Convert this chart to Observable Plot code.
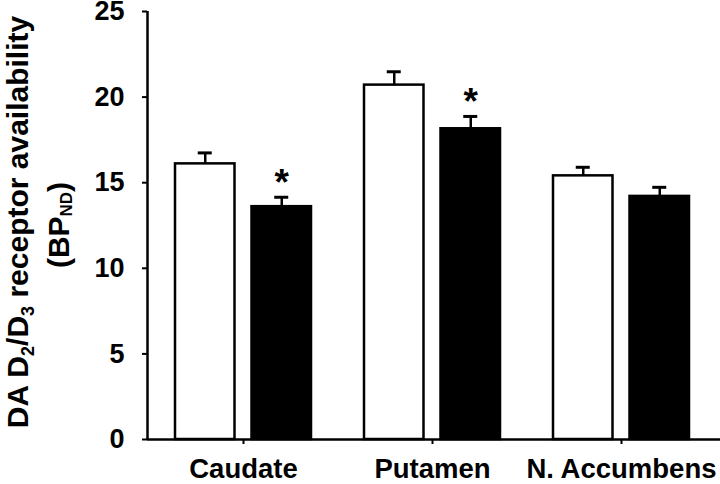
<!DOCTYPE html>
<html>
<head>
<meta charset="utf-8">
<script src="https://cdn.jsdelivr.net/npm/d3@7"></script>
<script src="https://cdn.jsdelivr.net/npm/@observablehq/plot@0.6"></script>
<style>
  html, body { margin: 0; padding: 0; background: #fff; }
  #chart { width: 720px; height: 484px; }
</style>
</head>
<body>
<div id="chart"></div>
<script>
// ---- data ----
const categories = ["Caudate", "Putamen", "N. Accumbens"];
const controlValues = [16.1, 20.7, 15.4];
const controlErrors = [0.64, 0.78, 0.5];
const patientValues = [13.6, 18.15, 14.2];
const patientErrors = [0.55, 0.72, 0.53];
const significant = [true, true, false];
const yTicks = [0, 5, 10, 15, 20, 25];
const seriesNames = ["Control", "Patient"];

// ---- layout constants (pixels converted to group-step units) ----
const step = 189;                 // px per category group
const barInner = 8.5 / step;      // half gap between bars
const barOuter = 68 / step;       // outer edge of a bar from group centre
const capHalf = 7 / step;
const xDomain = [-96 / step, 2 + 99 / step];

const rows = [];
categories.forEach((c, i) => {
  rows.push({cat: c, i, series: seriesNames[0], value: controlValues[i], err: controlErrors[i], sig: false,
             x1: i - barOuter, x2: i - barInner, fill: "white"});
  rows.push({cat: c, i, series: seriesNames[1], value: patientValues[i], err: patientErrors[i], sig: significant[i],
             x1: i + barInner, x2: i + barOuter, fill: "black"});
});
rows.forEach(d => { d.xc = (d.x1 + d.x2) / 2; d.top = d.value + d.err; });

const font = "'Liberation Sans', Arial, Helvetica, sans-serif";

const chart = Plot.plot({
  width: 720,
  height: 484,
  marginLeft: 147,
  marginRight: 0,
  marginTop: 11,
  marginBottom: 45,
  style: {fontFamily: font, background: "white", color: "black", overflow: "visible"},
  x: {domain: xDomain, axis: null},
  y: {domain: [0, 25], axis: null},
  marks: [
    Plot.rectY(rows, {x1: "x1", x2: "x2", y1: 0, y2: "value", fill: "fill", stroke: "black", strokeWidth: 2.5}),
    Plot.ruleX(rows, {x: "xc", y1: "value", y2: "top", stroke: "black", strokeWidth: 2.5}),
    Plot.ruleY(rows, {y: "top", x1: d => d.xc - capHalf, x2: d => d.xc + capHalf, stroke: "black", strokeWidth: 3}),
    Plot.text(rows.filter(d => d.sig), {x: "xc", y: "top", text: () => "*", lineAnchor: "bottom", dy: -2,
      fontSize: 37, fontWeight: "bold", fill: "black"}),
    Plot.axisY({ticks: yTicks, tickSize: 5, tickPadding: 18, fontSize: 27, fontWeight: "bold",
      label: null, strokeWidth: 2, tickFormat: d => String(d)}),
    Plot.axisX({ticks: categories.map((c, i) => i), tickFormat: i => categories[i], tickSize: 5,
      tickPadding: 14, fontSize: 27.5, fontWeight: "bold", label: null, strokeWidth: 2}),
    Plot.ruleX([xDomain[0]], {y1: 0, y2: 25, stroke: "black", strokeWidth: 2.5}),
    Plot.ruleY([0], {stroke: "black", strokeWidth: 2.5})
  ]
});

document.getElementById("chart").appendChild(chart);

// ---- y-axis title with subscripts ----
const svg = d3.select(chart);
const t1 = svg.append("text")
  .attr("transform", "translate(27.5,222) rotate(-90)")
  .attr("text-anchor", "middle")
  .attr("font-family", font).attr("font-weight", "bold").attr("font-size", 30).attr("fill", "black");
t1.append("tspan").text("DA D");
t1.append("tspan").attr("font-size", 18).attr("dy", 6).text("2");
t1.append("tspan").attr("dy", -6).text("/D");
t1.append("tspan").attr("font-size", 18).attr("dy", 6).text("3");
t1.append("tspan").attr("dy", -6).text(" receptor availability");

const t2 = svg.append("text")
  .attr("transform", "translate(69,225) rotate(-90)")
  .attr("text-anchor", "middle")
  .attr("font-family", font).attr("font-weight", "bold").attr("font-size", 30).attr("fill", "black");
t2.append("tspan").text("(BP");
t2.append("tspan").attr("font-size", 17).attr("dy", 3).text("ND");
t2.append("tspan").attr("dy", -3).text(")");
</script>
</body>
</html>
